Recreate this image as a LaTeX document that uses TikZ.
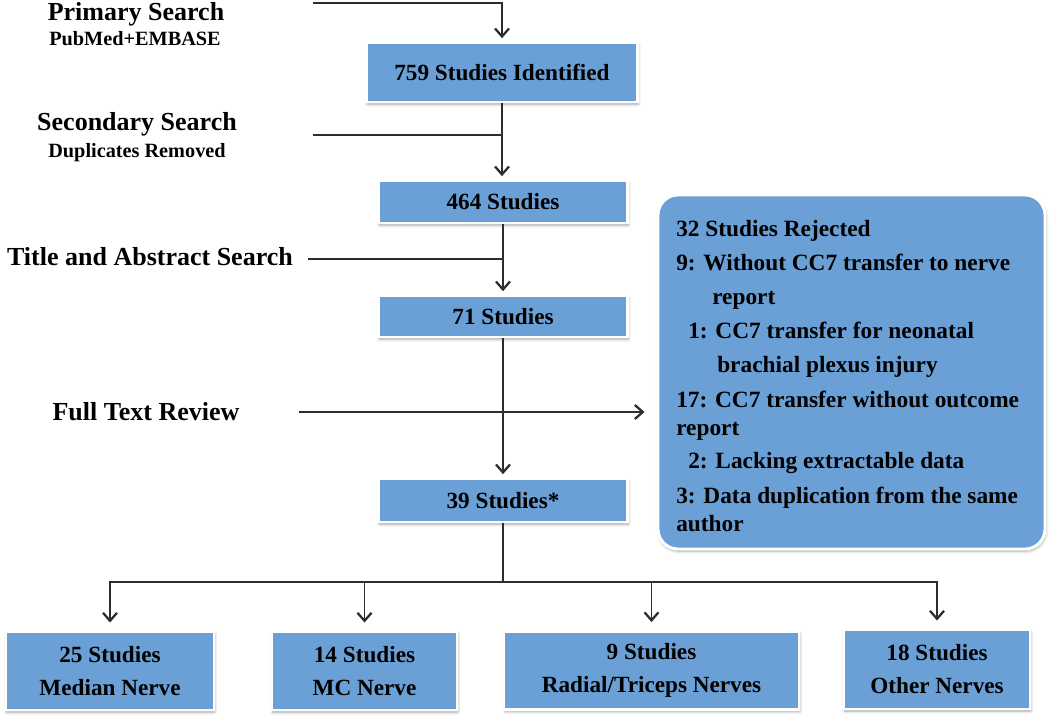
\documentclass[tikz,border=0pt]{standalone}
\usepackage{fontspec}
\setmainfont{Liberation Serif}
\usetikzlibrary{arrows.meta,shadows,shadows.blur}
\definecolor{boxblue}{RGB}{106,160,213}
\definecolor{linegray}{RGB}{45,45,45}
\tikzset{
  bluebox/.style={rectangle, fill=boxblue, draw=white, line width=2.2pt, inner sep=0pt,
    align=center, font=\bfseries\fontsize{17.4pt}{24.75pt}\selectfont,
    blur shadow={shadow xshift=0.6pt, shadow yshift=-1.6pt, shadow blur steps=6,
      shadow blur radius=2.2pt, shadow opacity=35}},
  conn/.style={draw=linegray, line width=1pt},
  arr/.style={conn, -{Straight Barb[length=6pt,width=10.5pt,line width=1.7pt]}, shorten >=2.5pt},
  headtxt/.style={anchor=base, inner sep=0pt, font=\bfseries\fontsize{19.5pt}{22pt}\selectfont},
  subtxt/.style={anchor=base, inner sep=0pt, font=\bfseries\fontsize{15.2pt}{18pt}\selectfont},
  rejtxt/.style={anchor=base west, inner sep=0pt, font=\bfseries\fontsize{17.5pt}{21pt}\selectfont},
}
\begin{document}
\begin{tikzpicture}[x=0.75pt,y=-0.75pt]
\useasboundingbox (0,0) rectangle (1050,720);

% left labels
\node[headtxt] (ps) at (136,21) {Primary Search};
\node[subtxt] (psb) at (135,46) {PubMed+EMBASE};
\node[headtxt] (ss) at (137,131) {Secondary Search};
\node[subtxt] (ssb) at (137,158) {Duplicates Removed};
\node[headtxt] (ta) at (150,266) {Title and Abstract Search};
\node[headtxt] (ft) at (146,421) {Full Text Review};

% central boxes
\node[bluebox, minimum width=203.25pt, minimum height=44.25pt] (b1) at (502,72.5) {759 Studies Identified};
\node[bluebox, minimum width=186.75pt, minimum height=31.5pt] (b2) at (503,202) {464 Studies};
\node[bluebox, minimum width=186.75pt, minimum height=30.75pt] (b3) at (503,316.5) {71 Studies};
\node[bluebox, minimum width=186.75pt, minimum height=32.25pt] (b4) at (503,500.5) {39 Studies*};

% bottom boxes
\node[bluebox, minimum width=156pt, minimum height=58.5pt] (ba) at (110,671) {25 Studies\\Median Nerve};
\node[bluebox, minimum width=138.75pt, minimum height=58.5pt] (bb) at (364.5,671) {14 Studies\\MC Nerve};
\node[bluebox, minimum width=221.25pt, minimum height=58.5pt] (bc) at (651.5,670.5) {9 Studies\\Radial/Triceps Nerves};
\node[bluebox, minimum width=139.5pt, minimum height=59.25pt] (bd) at (937,669.5) {18 Studies\\Other Nerves};

% rejection box
\node[bluebox, rounded corners=15pt, minimum width=290.25pt, minimum height=265.5pt] (rej) at (851.5,372) {};
\node[rejtxt] (r1) at (676,237) {32 Studies Rejected};
\node[rejtxt] (r2) at (676,271) {9: Without CC7 transfer to nerve};
\node[rejtxt] (r3) at (712,305) {report};
\node[rejtxt] (r4) at (688,339) {1: CC7 transfer for neonatal};
\node[rejtxt] (r5) at (717,373) {brachial plexus injury};
\node[rejtxt] (r6) at (676,407) {17: CC7 transfer without outcome};
\node[rejtxt] (r7) at (676,435) {report};
\node[rejtxt] (r8) at (688,468) {2: Lacking extractable data};
\node[rejtxt] (r9) at (676,503) {3: Data duplication from the same};
\node[rejtxt] (r10) at (676,531) {author};

% connectors
\coordinate (p1) at (313,3);
\draw[arr] (p1) -| (b1.north);
\coordinate (p2) at (313,135);
\draw[conn] (p2) -- (p2 -| b1.south);
\draw[arr] (b1.south) -- (b1.south |- b2.north);
\coordinate (p3) at (308,259);
\draw[conn] (p3) -- (p3 -| b2.south);
\draw[arr] (b2.south) -- (b3.north);
\coordinate (p4) at (299,412);
\draw[arr, shorten >=9pt] (p4) -- (p4 -| rej.west);
\draw[arr] (b3.south) -- (b4.north);
\coordinate (j) at (503,582);
\draw[conn] (b4.south) -- (j);
\draw[arr, shorten >=6pt] (j) -| (ba.north);
\draw[arr, shorten >=6pt] (j) -| (bb.north);
\draw[arr, shorten >=6pt] (j) -| (bc.north);
\draw[arr, shorten >=6pt] (j) -| (bd.north);
\end{tikzpicture}
\end{document}
